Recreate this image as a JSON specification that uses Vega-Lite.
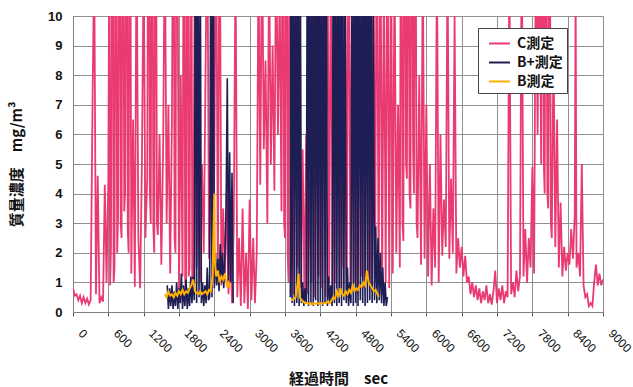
{
"$schema": "https://vega.github.io/schema/vega-lite/v6.json",
"width": 530, "height": 296,
"autosize": {"type": "none"},
"padding": {"left": 73, "top": 16, "right": 30, "bottom": 75},
"background": "white",
"config": {"view": {"stroke": "#808080", "strokeWidth": 1}, "font": "Liberation Sans"},
"datasets": {
"C": [
{"t":0,"v":0.8},{"t":30,"v":0.55},{"t":60,"v":0.6},{"t":90,"v":0.4},{"t":120,"v":0.55},{"t":150,"v":0.3},{"t":180,"v":0.5},{"t":210,"v":0.3},{"t":240,"v":0.45},{"t":270,"v":0.25},{"t":300,"v":0.4},{"t":330,"v":6.7},{"t":360,"v":12},{"t":390,"v":0.6},{"t":420,"v":4.6},{"t":450,"v":0.3},{"t":480,"v":0.5},{"t":510,"v":0.35},{"t":540,"v":4.3},{"t":570,"v":1.0},{"t":600,"v":4.5},{"t":630,"v":0.9},{"t":660,"v":14},{"t":690,"v":1.0},{"t":720,"v":15},{"t":750,"v":2.0},{"t":780,"v":14},{"t":810,"v":3.0},{"t":840,"v":15},{"t":870,"v":3.4},{"t":900,"v":14},{"t":930,"v":2.8},{"t":960,"v":15},{"t":990,"v":1.3},
{"t":1020,"v":6.5},{"t":1050,"v":0.85},{"t":1080,"v":13},{"t":1110,"v":2.5},{"t":1140,"v":0.8},{"t":1170,"v":5.0},{"t":1200,"v":12},{"t":1230,"v":2.5},{"t":1260,"v":4.5},{"t":1290,"v":15},{"t":1320,"v":3.0},{"t":1350,"v":14},{"t":1380,"v":2.0},{"t":1410,"v":15},{"t":1440,"v":2.6},{"t":1470,"v":6.0},{"t":1500,"v":1.6},{"t":1530,"v":5.5},{"t":1560,"v":13},{"t":1590,"v":3.0},{"t":1620,"v":7.0},{"t":1650,"v":1.3},{"t":1680,"v":6.5},{"t":1710,"v":14},{"t":1740,"v":2.0},{"t":1770,"v":15},{"t":1800,"v":0.7},{"t":1830,"v":8.0},{"t":1860,"v":1.2},{"t":1890,"v":15},{"t":1920,"v":0.8},{"t":1950,"v":14},{"t":1980,"v":1.5},{"t":2010,"v":15},{"t":2040,"v":0.9},{"t":2070,"v":13},
{"t":2100,"v":1.5},{"t":2130,"v":6.0},{"t":2160,"v":1.0},{"t":2190,"v":5.0},{"t":2220,"v":2.0},{"t":2250,"v":8.0},{"t":2280,"v":14},{"t":2310,"v":1.8},{"t":2340,"v":6.0},{"t":2370,"v":1.0},{"t":2400,"v":5.0},{"t":2430,"v":14},{"t":2460,"v":1.2},{"t":2490,"v":15},{"t":2520,"v":0.9},{"t":2550,"v":3.5},{"t":2580,"v":1.2},{"t":2610,"v":4.0},{"t":2640,"v":0.6},{"t":2670,"v":2.5},{"t":2700,"v":0.3},{"t":2730,"v":3.0},{"t":2760,"v":12},{"t":2790,"v":0.5},{"t":2820,"v":2.5},{"t":2850,"v":0.2},{"t":2880,"v":3.5},{"t":2910,"v":0.3},{"t":2940,"v":2.0},{"t":2970,"v":0.1},{"t":3000,"v":3.8},{"t":3030,"v":0.4},{"t":3060,"v":2.5},{"t":3090,"v":0.3},{"t":3120,"v":2.0},{"t":3150,"v":12},
{"t":3180,"v":4.3},{"t":3210,"v":13},{"t":3240,"v":5.5},{"t":3270,"v":8.5},{"t":3300,"v":3.0},{"t":3330,"v":12},{"t":3360,"v":5.0},{"t":3390,"v":9.0},{"t":3420,"v":4.1},{"t":3450,"v":13},{"t":3480,"v":6.0},{"t":3510,"v":11},{"t":3540,"v":3.4},{"t":3570,"v":14},{"t":3600,"v":2.5},{"t":3630,"v":15},{"t":3660,"v":1.0},{"t":3690,"v":14},
{"t":3720,"v":14},{"t":3750,"v":0.6},{"t":3780,"v":12},{"t":3810,"v":1.5},{"t":3840,"v":13},{"t":3870,"v":0.8},{"t":3900,"v":5.5},{"t":3930,"v":0.5},{"t":3960,"v":6.0},{"t":3990,"v":0.6},{"t":4020,"v":4.5},{"t":4050,"v":1.0},{"t":4080,"v":13},{"t":4110,"v":0.5},{"t":4140,"v":14},{"t":4170,"v":1.2},{"t":4200,"v":15},{"t":4230,"v":0.8},{"t":4260,"v":12},{"t":4290,"v":0.5},{"t":4320,"v":14},{"t":4350,"v":1.0},{"t":4380,"v":13},{"t":4410,"v":0.6},{"t":4440,"v":15},{"t":4470,"v":1.0},{"t":4500,"v":14},{"t":4530,"v":0.8},{"t":4560,"v":12},{"t":4590,"v":1.5},{"t":4620,"v":14},{"t":4650,"v":1.0},{"t":4680,"v":15},{"t":4710,"v":0.8},{"t":4740,"v":13},{"t":4770,"v":1.0},{"t":4800,"v":15},{"t":4830,"v":0.6},{"t":4860,"v":14},{"t":4890,"v":1.2},{"t":4920,"v":12},{"t":4950,"v":0.8},{"t":4980,"v":15},{"t":5010,"v":1.0},{"t":5040,"v":14},{"t":5070,"v":0.7},{"t":5100,"v":13},{"t":5130,"v":1.2},{"t":5160,"v":15},{"t":5190,"v":0.9},{"t":5220,"v":14},{"t":5250,"v":0.8},{"t":5280,"v":12},{"t":5310,"v":1.0},{"t":5340,"v":14},
{"t":5370,"v":0.8},{"t":5400,"v":13},{"t":5430,"v":1.3},{"t":5460,"v":12},{"t":5490,"v":2.0},{"t":5520,"v":7.0},{"t":5550,"v":1.5},{"t":5580,"v":14},{"t":5610,"v":2.4},{"t":5640,"v":15},{"t":5670,"v":4.5},{"t":5700,"v":14},{"t":5730,"v":3.5},{"t":5760,"v":15},{"t":5790,"v":4.0},{"t":5820,"v":13},{"t":5850,"v":2.5},{"t":5880,"v":8.0},{"t":5910,"v":1.6},{"t":5940,"v":12},{"t":5970,"v":1.8},{"t":6000,"v":7.0},{"t":6030,"v":1.2},{"t":6060,"v":5.0},{"t":6090,"v":0.9},{"t":6120,"v":3.5},{"t":6150,"v":1.5},{"t":6180,"v":12},{"t":6210,"v":1.0},{"t":6240,"v":6.0},{"t":6270,"v":1.9},{"t":6300,"v":3.8},{"t":6330,"v":2.2},{"t":6360,"v":12},{"t":6390,"v":1.8},{"t":6420,"v":4.5},{"t":6450,"v":2.0},{"t":6480,"v":10},{"t":6510,"v":1.3},{"t":6540,"v":2.5},{"t":6570,"v":1.5},{"t":6600,"v":2.2},{"t":6630,"v":1.2},{"t":6660,"v":1.9},{"t":6690,"v":1.0},{"t":6720,"v":1.2},{"t":6750,"v":0.6},{"t":6780,"v":1.0},{"t":6810,"v":0.5},{"t":6840,"v":0.9},{"t":6870,"v":0.4},{"t":6900,"v":0.8},{"t":6930,"v":0.3},{"t":6960,"v":0.7},{"t":6990,"v":0.4},{"t":7020,"v":0.9},{"t":7050,"v":0.3},{"t":7080,"v":0.6},{"t":7110,"v":0.25},{"t":7140,"v":0.7},{"t":7170,"v":1.4},{"t":7200,"v":0.3},{"t":7230,"v":0.8},{"t":7260,"v":0.4},{"t":7290,"v":0.9},{"t":7320,"v":0.3},{"t":7350,"v":0.7},{"t":7380,"v":0.5},{"t":7410,"v":12},{"t":7440,"v":0.6},{"t":7470,"v":1.0},{"t":7500,"v":0.5},{"t":7530,"v":1.4},{"t":7560,"v":0.7},{"t":7590,"v":1.2},{"t":7620,"v":13},{"t":7650,"v":1.2},{"t":7680,"v":2.8},{"t":7710,"v":1.0},{"t":7740,"v":2.5},{"t":7770,"v":1.5},{"t":7800,"v":4.9},{"t":7830,"v":1.3},{"t":7860,"v":13},{"t":7890,"v":6.0},{"t":7920,"v":14},{"t":7950,"v":5.0},{"t":7980,"v":15},{"t":8010,"v":4.0},{"t":8040,"v":14},{"t":8070,"v":3.5},{"t":8100,"v":12},{"t":8130,"v":2.5},{"t":8160,"v":9},{"t":8190,"v":2.2},{"t":8220,"v":6.5},{"t":8250,"v":1.5},{"t":8280,"v":3.7},{"t":8310,"v":1.2},{"t":8340,"v":2.2},{"t":8370,"v":1.4},{"t":8400,"v":2.0},{"t":8430,"v":1.6},{"t":8460,"v":2.8},{"t":8490,"v":1.8},{"t":8520,"v":3.3},{"t":8535,"v":11},{"t":8550,"v":1.5},{"t":8580,"v":2.0},{"t":8610,"v":1.2},{"t":8640,"v":5.0},{"t":8670,"v":0.9},{"t":8700,"v":0.5},{"t":8730,"v":0.6},{"t":8760,"v":0.2},{"t":8790,"v":0.3},{"t":8820,"v":0.2},{"t":8850,"v":1.0},{"t":8880,"v":1.6},{"t":8910,"v":0.9},{"t":8940,"v":1.3},{"t":8970,"v":0.9},{"t":9000,"v":1.1},
{"t":615,"v":12},{"t":645,"v":2.2},{"t":675,"v":15},{"t":705,"v":1.5},{"t":735,"v":13},{"t":765,"v":3.2},{"t":795,"v":15},{"t":825,"v":2.5},{"t":855,"v":14},{"t":885,"v":4.0},{"t":915,"v":15},{"t":945,"v":2.0},{"t":975,"v":13},
{"t":1275,"v":13},{"t":1305,"v":4.0},{"t":1335,"v":15},{"t":1365,"v":2.8},{"t":1395,"v":14},{"t":1425,"v":3.0},
{"t":1695,"v":13},{"t":1725,"v":2.5},{"t":1755,"v":14},
{"t":1875,"v":12},{"t":1905,"v":1.0},{"t":1935,"v":15},{"t":1965,"v":1.2},{"t":1995,"v":13},{"t":2025,"v":1.0},
{"t":3555,"v":13},{"t":3585,"v":3.0},{"t":3615,"v":14},{"t":3645,"v":2.0},{"t":3675,"v":15},
{"t":5565,"v":13},{"t":5595,"v":3.0},{"t":5625,"v":15},{"t":5655,"v":5.0},{"t":5685,"v":15},{"t":5715,"v":4.0},{"t":5745,"v":14},{"t":5775,"v":5.5},{"t":5805,"v":15},{"t":5835,"v":3.0},
{"t":7965,"v":14},{"t":7995,"v":5.0},{"t":8025,"v":15},{"t":8055,"v":4.0},{"t":8085,"v":13},{"t":8115,"v":3.0}
],
"Bp1": [
{"t":1600,"v":0.9},{"t":1620,"v":0.1},{"t":1640,"v":0.8},{"t":1660,"v":0.2},{"t":1680,"v":0.9},{"t":1700,"v":0.1},{"t":1720,"v":0.7},{"t":1740,"v":0.2},{"t":1760,"v":1.0},{"t":1780,"v":0.1},{"t":1800,"v":0.8},{"t":1820,"v":0.3},{"t":1840,"v":1.3},{"t":1860,"v":0.1},{"t":1880,"v":0.9},{"t":1900,"v":0.2},{"t":1920,"v":1.1},{"t":1940,"v":0.1},{"t":1960,"v":0.8},{"t":1980,"v":0.2},{"t":2000,"v":1.2},{"t":2020,"v":0.3},{"t":2040,"v":1.2},{"t":2060,"v":0.4},{"t":2080,"v":15},{"t":2100,"v":0.3},{"t":2120,"v":14},{"t":2140,"v":0.5},{"t":2160,"v":13},{"t":2180,"v":0.3},{"t":2200,"v":1.0},{"t":2220,"v":0.2},{"t":2240,"v":0.9},{"t":2260,"v":0.3},{"t":2280,"v":1.5},{"t":2300,"v":0.4},{"t":2320,"v":0.5},{"t":2340,"v":13},{"t":2360,"v":0.5},{"t":2380,"v":15},{"t":2400,"v":0.8},{"t":2420,"v":2.0},{"t":2440,"v":0.9},{"t":2460,"v":1.8},{"t":2480,"v":0.7},{"t":2500,"v":2.3},{"t":2520,"v":1.0},{"t":2540,"v":2.0},{"t":2560,"v":0.8},{"t":2580,"v":1.9},{"t":2600,"v":3.6},{"t":2620,"v":7.9},{"t":2640,"v":0.9},{"t":2660,"v":5.4},{"t":2680,"v":1.0},{"t":2700,"v":4.7},{"t":2720,"v":0.3}
],
"Bp2": [
{"t":3690,"v":0.5},{"t":3700,"v":14},{"t":3720,"v":0.3},{"t":3740,"v":15},{"t":3760,"v":0.2},{"t":3780,"v":13},{"t":3800,"v":0.3},{"t":3820,"v":15},{"t":3840,"v":0.2},{"t":3860,"v":12},{"t":3880,"v":0.3},{"t":3900,"v":1.0},{"t":3920,"v":0.2},{"t":3940,"v":0.8},{"t":3960,"v":0.3},{"t":3980,"v":14},{"t":4000,"v":0.2},{"t":4020,"v":15},{"t":4040,"v":0.3},{"t":4060,"v":13},{"t":4080,"v":0.2},{"t":4100,"v":15},{"t":4120,"v":0.4},{"t":4140,"v":14},{"t":4160,"v":0.2},{"t":4180,"v":15},{"t":4200,"v":0.3},{"t":4220,"v":13},{"t":4240,"v":0.2},{"t":4260,"v":15},{"t":4280,"v":0.3},{"t":4300,"v":14},{"t":4320,"v":0.2},{"t":4340,"v":1.2},{"t":4360,"v":0.3},{"t":4380,"v":0.9},{"t":4400,"v":0.2},{"t":4420,"v":14},{"t":4440,"v":0.3},{"t":4460,"v":15},{"t":4480,"v":0.2},{"t":4500,"v":13},{"t":4520,"v":0.3},{"t":4540,"v":15},{"t":4560,"v":0.2},{"t":4580,"v":14},{"t":4600,"v":0.4},{"t":4620,"v":12},{"t":4640,"v":0.3},{"t":4660,"v":1.5},{"t":4680,"v":0.2},{"t":4700,"v":1.0},{"t":4720,"v":0.3},{"t":4740,"v":13},{"t":4760,"v":0.2},{"t":4780,"v":15},{"t":4800,"v":0.3},{"t":4820,"v":14},{"t":4840,"v":0.2},{"t":4860,"v":15},{"t":4880,"v":0.4},{"t":4900,"v":13},{"t":4920,"v":0.3},{"t":4940,"v":15},{"t":4960,"v":0.2},{"t":4980,"v":14},{"t":5000,"v":0.3},{"t":5020,"v":15},{"t":5040,"v":0.4},{"t":5060,"v":13},{"t":5080,"v":0.3},{"t":5100,"v":10},{"t":5120,"v":0.4},{"t":5140,"v":2.9},{"t":5160,"v":0.3},{"t":5180,"v":2.5},{"t":5200,"v":0.4},{"t":5220,"v":2.0},{"t":5240,"v":0.3},{"t":5260,"v":1.5},{"t":5280,"v":0.2},{"t":5300,"v":1.0},{"t":5320,"v":0.2},{"t":5340,"v":0.5}
],
"B1": [
{"t":1560,"v":0.6},{"t":1590,"v":0.5},{"t":1620,"v":0.7},{"t":1650,"v":0.55},{"t":1680,"v":0.6},{"t":1710,"v":0.5},{"t":1740,"v":0.65},{"t":1770,"v":0.55},{"t":1800,"v":0.7},{"t":1830,"v":0.6},{"t":1860,"v":0.75},{"t":1890,"v":0.6},{"t":1920,"v":0.7},{"t":1950,"v":0.65},{"t":1980,"v":0.8},{"t":2010,"v":0.9},{"t":2040,"v":1.1},{"t":2070,"v":0.7},{"t":2100,"v":0.65},{"t":2130,"v":0.6},{"t":2160,"v":0.7},{"t":2190,"v":0.6},{"t":2220,"v":0.65},{"t":2250,"v":0.7},{"t":2280,"v":0.6},{"t":2310,"v":0.75},{"t":2340,"v":0.7},{"t":2370,"v":1.2},{"t":2400,"v":4.0},{"t":2410,"v":1.7},{"t":2430,"v":1.2},{"t":2460,"v":1.4},{"t":2490,"v":1.0},{"t":2520,"v":1.2},{"t":2550,"v":1.1},{"t":2580,"v":1.3},{"t":2610,"v":0.9},{"t":2640,"v":1.0},{"t":2660,"v":0.8}
],
"B2": [
{"t":3700,"v":0.45},{"t":3720,"v":0.4},{"t":3750,"v":0.45},{"t":3780,"v":0.5},{"t":3810,"v":0.9},{"t":3830,"v":1.3},{"t":3850,"v":0.5},{"t":3880,"v":0.4},{"t":3910,"v":0.35},{"t":3940,"v":0.3},{"t":3970,"v":0.3},{"t":4000,"v":0.28},{"t":4030,"v":0.3},{"t":4060,"v":0.25},{"t":4090,"v":0.3},{"t":4120,"v":0.28},{"t":4150,"v":0.3},{"t":4180,"v":0.27},{"t":4210,"v":0.3},{"t":4240,"v":0.28},{"t":4270,"v":0.3},{"t":4300,"v":0.3},{"t":4330,"v":0.35},{"t":4360,"v":0.3},{"t":4390,"v":0.4},{"t":4420,"v":0.5},{"t":4450,"v":0.45},{"t":4480,"v":0.7},{"t":4510,"v":0.5},{"t":4540,"v":0.8},{"t":4570,"v":0.6},{"t":4600,"v":0.55},{"t":4630,"v":0.7},{"t":4660,"v":0.6},{"t":4690,"v":0.75},{"t":4720,"v":0.65},{"t":4750,"v":0.9},{"t":4780,"v":0.7},{"t":4810,"v":0.8},{"t":4840,"v":0.75},{"t":4870,"v":0.9},{"t":4900,"v":0.85},{"t":4930,"v":1.0},{"t":4960,"v":0.9},{"t":4990,"v":1.4},{"t":5020,"v":1.0},{"t":5050,"v":0.9},{"t":5080,"v":0.8},{"t":5110,"v":0.7},{"t":5140,"v":0.75},{"t":5170,"v":0.6},{"t":5190,"v":0.5}
]
},
"encoding": {
  "x": {"field": "t", "type": "quantitative", "sort": "ascending", "scale": {"domain": [0, 9000], "nice": false},
   "axis": {"values": [0,600,1200,1800,2400,3000,3600,4200,4800,5400,6000,6600,7200,7800,8400,9000], "format": "d",
    "labelAngle": 45, "labelAlign": "left", "labelBaseline": "middle", "labelOffset": 7, "labelPadding": 15,
    "labelFontSize": 12, "labelColor": "#111", "labelFont": "Liberation Sans", "labelOverlap": false, "labelFlush": false,
    "tickSize": 4, "tickColor": "#555", "domainColor": "#808080", "gridColor": "#909090", "gridWidth": 1,
    "title": "経過時間　sec", "titleFont": "Noto Sans CJK JP", "titleFontSize": 15, "titleFontWeight": "bold", "titleColor": "#111",
    "titleX": 265, "titleY": 66, "titleBaseline": "middle", "titleAlign": "center"}},
  "y": {"field": "v", "type": "quantitative", "scale": {"domain": [0, 10], "nice": false},
   "axis": {"values": [0,1,2,3,4,5,6,7,8,9,10], "format": "d", "labelFontSize": 13, "labelFontWeight": "bold", "labelColor": "#111", "labelFont": "Liberation Sans",
    "ticks": false, "labelPadding": 11, "domainColor": "#808080", "gridColor": "#909090", "gridWidth": 1,
    "title": "質量濃度　mg/m³", "titleFont": "Noto Sans CJK JP", "titleFontSize": 15, "titleFontWeight": "bold", "titleColor": "#111",
    "titleX": -57, "titleY": 148, "titleAngle": -90, "titleAlign": "center", "titleBaseline": "middle"}}
},
"layer": [
{"data": {"name": "C"},
 "mark": {"type": "line", "clip": true, "strokeWidth": 1.8},
 "encoding": {
  "color": {"datum": "C測定", "type": "nominal",
   "scale": {"domain": ["C測定", "B+測定", "B測定"], "range": ["#EA3A72", "#1E1E55", "#FFB000"]},
   "legend": {"orient": "none", "legendX": 405, "legendY": 12, "direction": "vertical", "title": null,
    "fillColor": "white", "strokeColor": "#444", "padding": 4, "symbolType": "stroke", "symbolSize": 441, "symbolStrokeWidth": 2, "symbolOffset": 6,
    "labelFont": "Noto Sans CJK JP", "labelFontSize": 14, "labelFontWeight": "bold", "labelColor": "#111", "rowPadding": 0, "labelOffset": 6}}
 }},
{"data": {"name": "Bp1"},
 "mark": {"type": "line", "clip": true, "strokeWidth": 1.6},
 "encoding": {"color": {"datum": "B+測定", "type": "nominal"}}},
{"data": {"name": "Bp2"},
 "mark": {"type": "line", "clip": true, "strokeWidth": 1.6},
 "encoding": {"color": {"datum": "B+測定", "type": "nominal"}}},
{"data": {"name": "B1"},
 "mark": {"type": "line", "clip": true, "strokeWidth": 2},
 "encoding": {"color": {"datum": "B測定", "type": "nominal"}}},
{"data": {"name": "B2"},
 "mark": {"type": "line", "clip": true, "strokeWidth": 2},
 "encoding": {"color": {"datum": "B測定", "type": "nominal"}}}
]
}
